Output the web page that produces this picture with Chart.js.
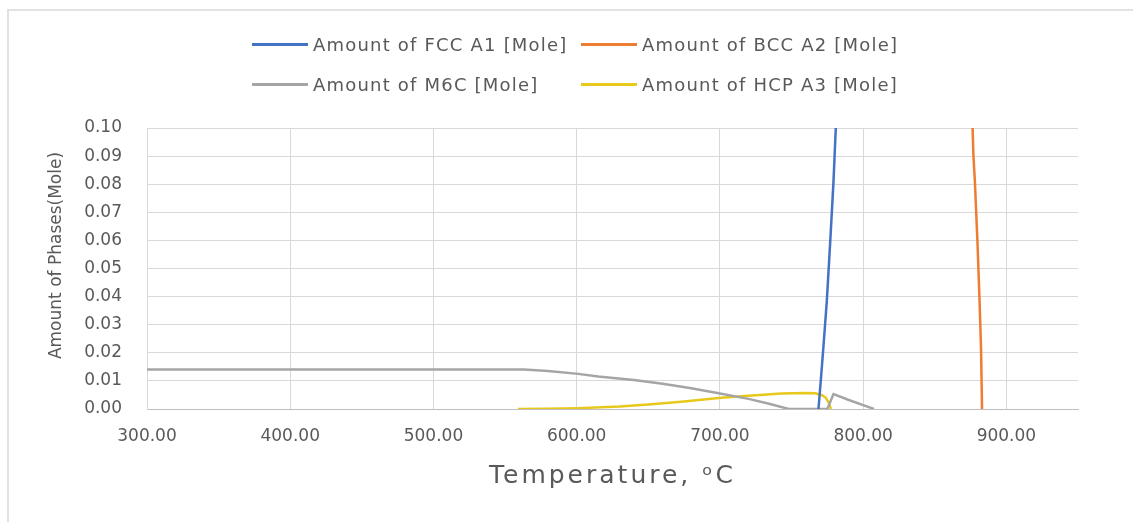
<!DOCTYPE html>
<html>
<head>
<meta charset="utf-8">
<script src="https://cdn.jsdelivr.net/npm/chart.js@4"></script>
<style>
  html, body { margin: 0; padding: 0; background: #fff; }
  #frame { position: absolute; left: 7px; top: 9px; width: 1126px; height: 513px;
           border-left: 2px solid #e2e2e2; border-top: 2px solid #e2e2e2; }
  #grafico { position: absolute; left: 0; top: 0; }
  #legenda { position: absolute; left: 252px; top: 24px; display: grid;
             grid-template-columns: 329px auto; grid-auto-rows: 40px;
             font-family: "DejaVu Sans"; font-size: 18px; letter-spacing: 1.2px; color: #595959; }
  .item { display: flex; align-items: center; white-space: nowrap; }
  .item span.linha { display: inline-block; width: 56px; height: 3px; margin-right: 5px; }
</style>
</head>
<body>
<div id="frame"></div>
<canvas id="grafico" width="1133" height="522"></canvas>
<div id="legenda"></div>
<script>
// valores (temperatura em C, quantidade em mol)
var tempFCC = [768.8, 770.4, 772.2, 774.6, 777.0, 779.3, 780.9];
var amtFCC  = [0.000, 0.010, 0.0217, 0.0382, 0.0595, 0.081, 0.100];

var tempBCC = [883.0, 882.3, 881.3, 879.8, 878.0, 877.0, 876.4];
var amtBCC  = [0.000, 0.0217, 0.0382, 0.0595, 0.081, 0.090, 0.100];

var tempM6C = [300, 563, 580, 601, 615, 640, 660, 680, 700, 720, 735, 748, 775, 779.3, 790, 800, 807.6];
var amtM6C  = [0.0141, 0.0141, 0.0135, 0.0125, 0.0116, 0.0103, 0.0090, 0.0074, 0.0055, 0.0036, 0.0018, 0.0, 0.0, 0.0053, 0.0032, 0.0014, 0.0];

var tempHCP = [559, 580, 601, 630, 650, 673, 701, 720, 743, 760, 766.5, 771, 774, 776, 777.5];
var amtHCP  = [0.0, 0.0001, 0.0003, 0.0009, 0.0016, 0.0026, 0.0040, 0.0047, 0.0055, 0.0057, 0.0056, 0.0050, 0.0040, 0.0022, 0.0];

var nomes = ['Amount of FCC A1 [Mole]', 'Amount of BCC A2 [Mole]', 'Amount of M6C [Mole]', 'Amount of HCP A3 [Mole]'];
var cores = ['#4472C4', '#ED7D31', '#A5A5A5', '#E8C81A'];

var yTicksMin = 0, yTicksMax = 0.10, yStep = 0.01;
var xTicksMin = 300, xTicksMax = 950, xStep = 100;

var tituloX = 'Temperature, ᵒC';
var tituloY = 'Amount of Phases(Mole)';
var corTexto = '#595959';

function juntar(temps, amts) {
  var pts = [];
  for (var i = 0; i < temps.length; i++) {
    pts.push({ x: temps[i], y: amts[i] });
  }
  return pts;
}

var series = [juntar(tempFCC, amtFCC), juntar(tempBCC, amtBCC), juntar(tempM6C, amtM6C), juntar(tempHCP, amtHCP)];

var dados = {
  datasets: series.map(function (pts, i) {
    return {
      label: nomes[i],
      data: pts,
      borderColor: cores[i],
      backgroundColor: cores[i],
      borderWidth: 2.5,
      showLine: true,
      pointRadius: 0,
      tension: 0
    };
  })
};

// titulos dos eixos desenhados a mao (espacamento das letras)
const titulosEixos = {
  id: 'titulosEixos',
  afterDraw(chart) {
    const ctx = chart.ctx;
    const area = chart.chartArea;
    ctx.save();
    ctx.fillStyle = corTexto;
    ctx.font = '25px "DejaVu Sans"';
    ctx.letterSpacing = '3px';
    ctx.textAlign = 'center';
    ctx.textBaseline = 'alphabetic';
    ctx.fillText(tituloX, (area.left + area.right) / 2, area.bottom + 74);
    ctx.restore();

    ctx.save();
    ctx.fillStyle = corTexto;
    ctx.font = '17px "DejaVu Sans"';
    ctx.textAlign = 'center';
    ctx.textBaseline = 'middle';
    ctx.translate(57, (area.top + area.bottom) / 2 - 13);
    ctx.rotate(-Math.PI / 2);
    ctx.fillText(tituloY, 0, 0);
    ctx.restore();
  }
};

const config = {
  type: 'scatter',
  data: dados,
  options: {
    responsive: false,
    animation: false,
    layout: { padding: { top: 128, right: 55, left: 0, bottom: 0 } },
    plugins: {
      legend: { display: false },
      tooltip: { enabled: false }
    },
    scales: {
      x: {
        type: 'linear',
        min: xTicksMin,
        max: xTicksMax,
        afterFit: function (scale) { scale.height = 113; },
        grid: { color: '#d9d9d9', drawTicks: false },
        border: { color: '#bfbfbf', width: 1 },
        ticks: {
          stepSize: xStep,
          includeBounds: false,
          padding: 17,
          color: corTexto,
          font: { family: 'DejaVu Sans', size: 17 },
          callback: function (v) { return v.toFixed(2); }
        }
      },
      y: {
        type: 'linear',
        min: yTicksMin,
        max: yTicksMax,
        afterFit: function (scale) { scale.width = 147; },
        grid: { color: '#d9d9d9', drawTicks: false },
        border: { color: '#d9d9d9', width: 1 },
        ticks: {
          stepSize: yStep,
          padding: 25,
          color: corTexto,
          font: { family: 'DejaVu Sans', size: 17 },
          callback: function (v) { return v.toFixed(2); }
        }
      }
    }
  },
  plugins: [titulosEixos]
};

let grafico = new Chart(document.getElementById('grafico'), config);

// legenda em duas colunas como no original
var legenda = document.getElementById('legenda');
grafico.data.datasets.forEach(function (ds) {
  var item = document.createElement('div');
  item.className = 'item';
  var linha = document.createElement('span');
  linha.className = 'linha';
  linha.style.background = ds.borderColor;
  item.appendChild(linha);
  item.appendChild(document.createTextNode(ds.label));
  legenda.appendChild(item);
});
</script>
</body>
</html>
